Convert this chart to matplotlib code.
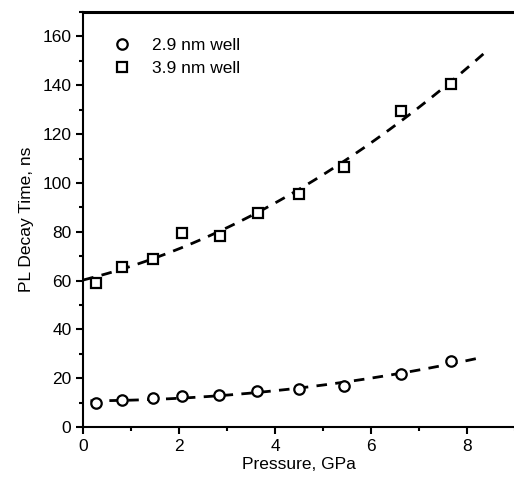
import numpy as np
import matplotlib.pyplot as plt
from matplotlib.ticker import MultipleLocator

plt.rcParams['font.family'] = ['Liberation Sans', 'DejaVu Sans']

# pressure (GPa) and PL decay time (ns)
p_29 = [0.26, 0.80, 1.46, 2.05, 2.83, 3.62, 4.49, 5.43, 6.62, 7.67]
t_29 = [9.7, 11.0, 11.7, 12.7, 13.3, 14.7, 15.5, 16.9, 21.5, 26.9]

p_39 = [0.26, 0.80, 1.46, 2.06, 2.85, 3.65, 4.50, 5.43, 6.62, 7.67]
t_39 = [59.1, 65.7, 68.7, 79.3, 78.2, 87.5, 95.6, 106.5, 129.4, 140.5]

# extent of the dashed fit curves
fit_range_29 = (0.15, 8.3)
fit_range_39 = (0.0, 8.4)

fig = plt.figure(figsize=(5.14, 4.83), dpi=100)
ax = fig.add_axes([0.162, 0.116, 0.8405, 0.859])

for p, t, rng in [(p_29, t_29, fit_range_29), (p_39, t_39, fit_range_39)]:
    coef = np.polyfit(p, t, 2)
    xx = np.linspace(rng[0], rng[1], 200)
    ax.plot(xx, np.polyval(coef, xx), color='black', lw=2.0,
            linestyle=(0, (3.8, 3)), zorder=2)

ax.plot(p_29, t_29, linestyle='none', marker='o', ms=7.5, mfc='white',
        mec='black', mew=1.6, zorder=3, label='2.9 nm well')
ax.plot(p_39, t_39, linestyle='none', marker='s', ms=7.5, mfc='white',
        mec='black', mew=1.6, zorder=3, label='3.9 nm well')

ax.set_xlim(0, 9)
ax.set_ylim(0, 170)
ax.xaxis.set_major_locator(MultipleLocator(2))
ax.xaxis.set_minor_locator(MultipleLocator(1))
ax.yaxis.set_major_locator(MultipleLocator(20))
ax.yaxis.set_minor_locator(MultipleLocator(10))
ax.tick_params(which='major', direction='out', length=5, width=1.5, labelsize=12.5)
ax.tick_params(which='minor', direction='out', length=3, width=1.5)
ax.tick_params(top=False, right=False)
for s in ['left', 'bottom']:
    ax.spines[s].set_linewidth(1.5)
ax.spines['top'].set_linewidth(2.2)
ax.spines['right'].set_visible(False)

ax.set_xlabel('Pressure, GPa', fontsize=12.5, labelpad=2)
ax.set_ylabel('PL Decay Time, ns', fontsize=12.5, labelpad=6)

ax.legend(loc='upper left', bbox_to_anchor=(0.035, 0.975), frameon=False,
          fontsize=12.5, handlelength=0.9, handletextpad=1.3, labelspacing=0.45)

fig.savefig('out.png', dpi=100)
